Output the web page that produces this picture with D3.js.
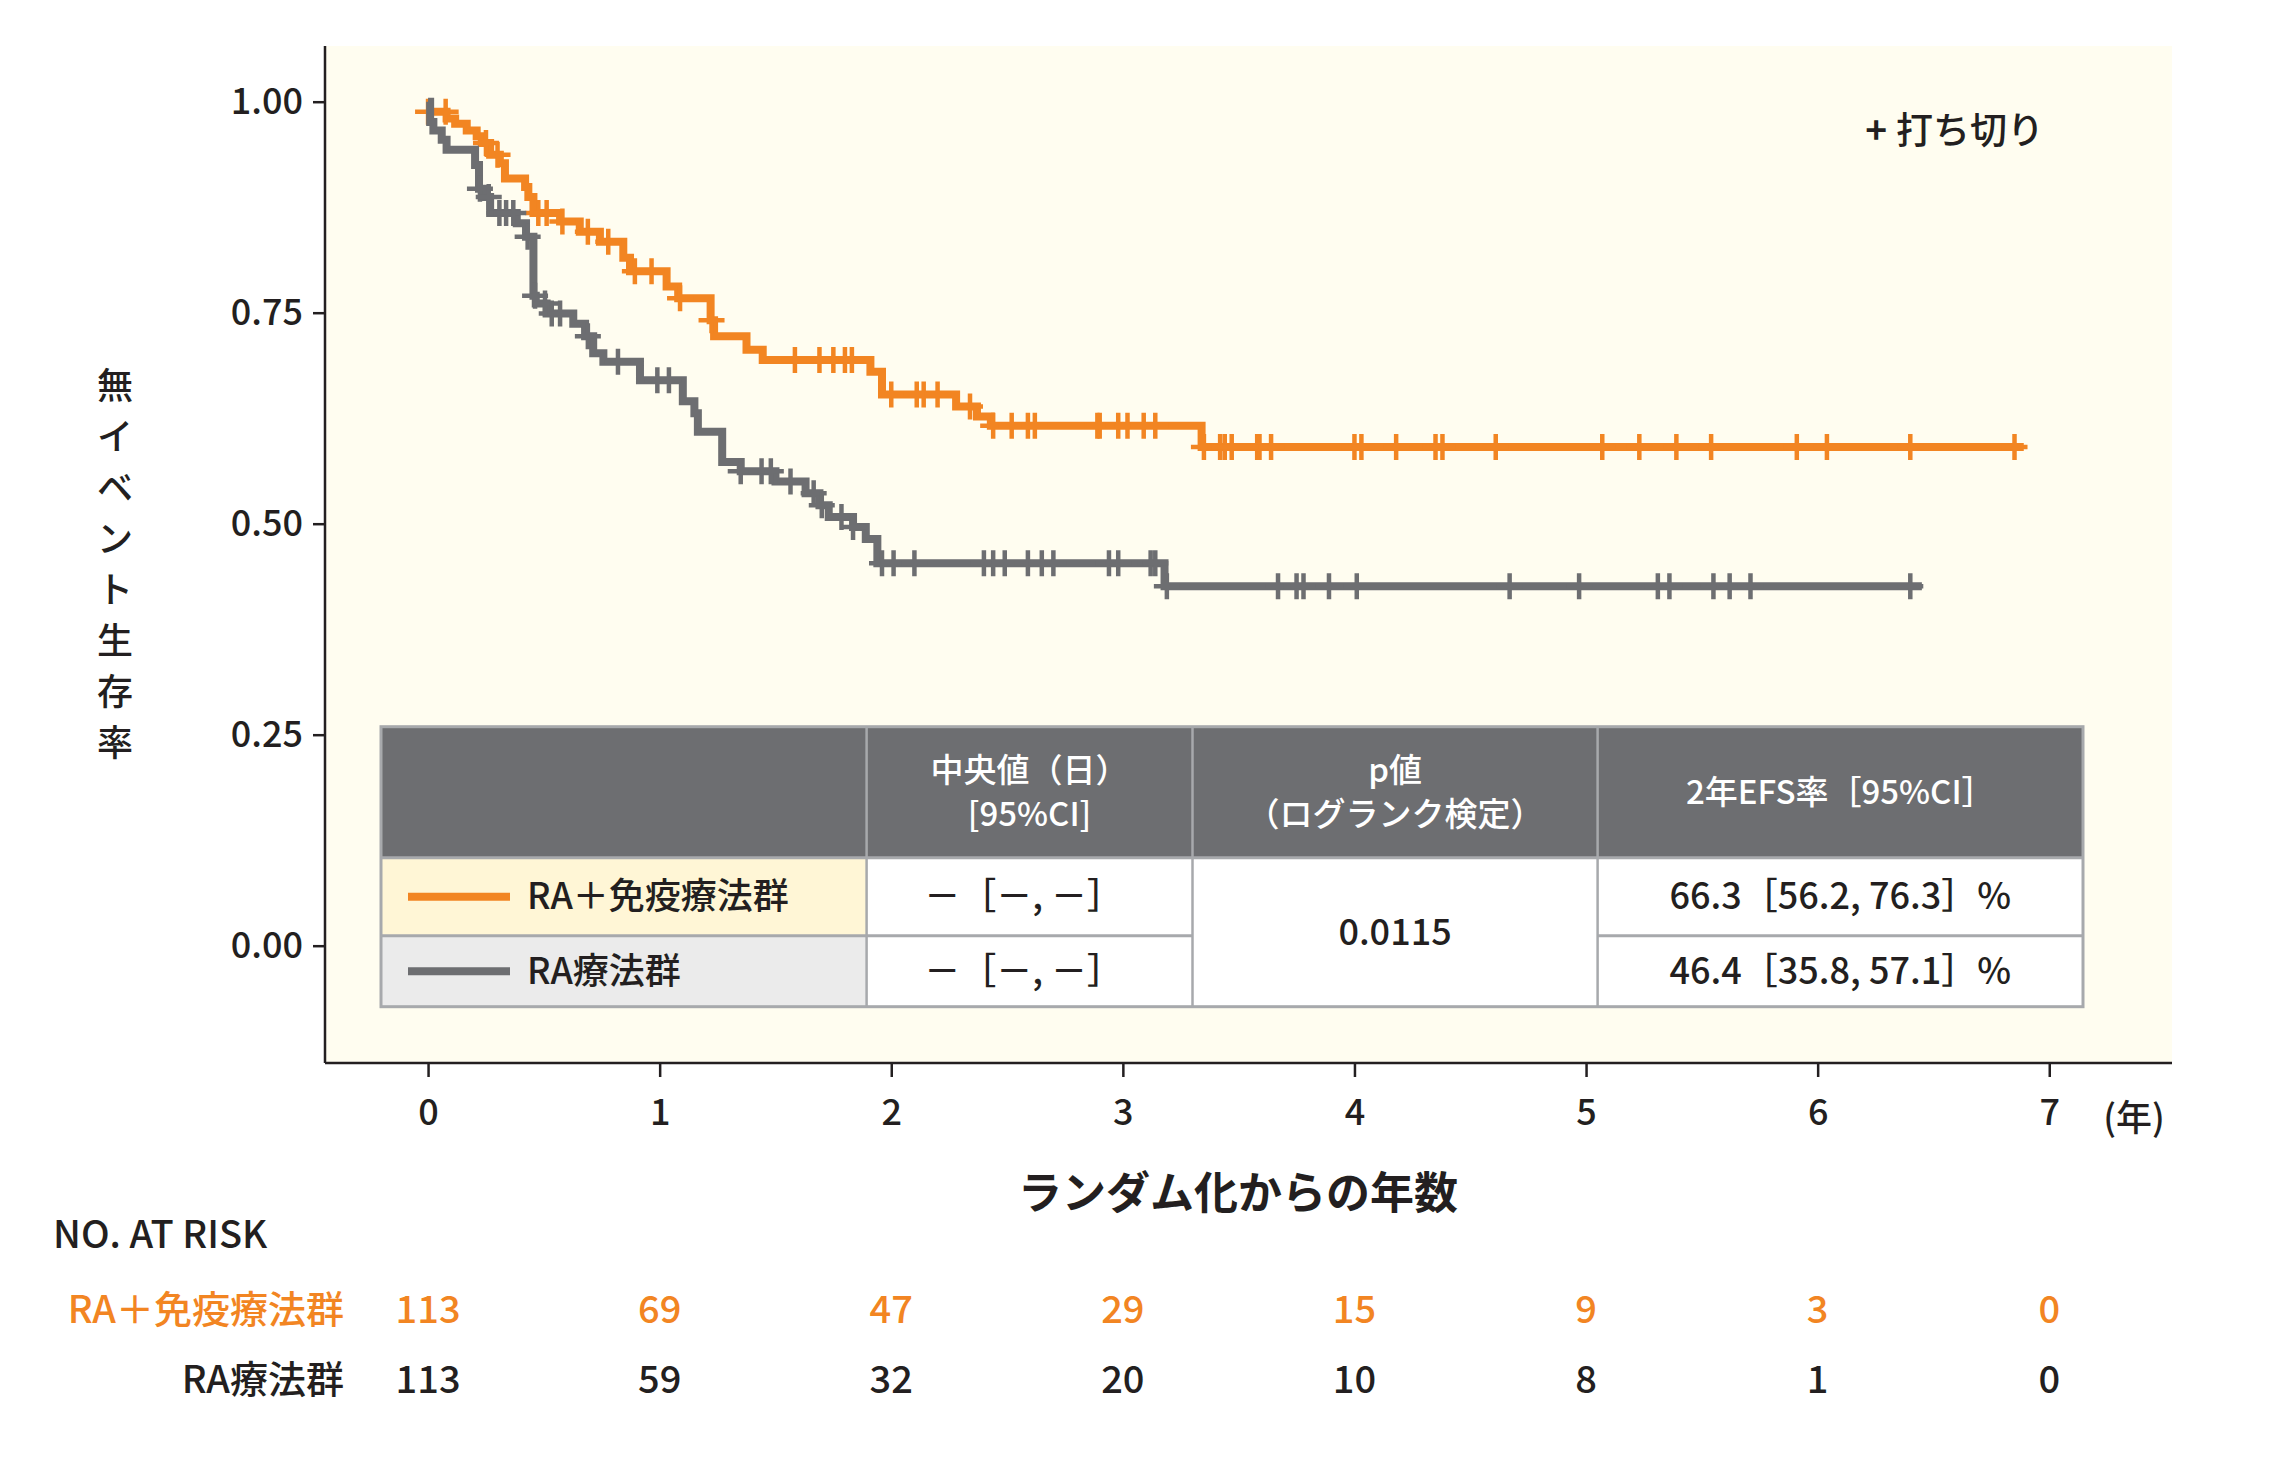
<!DOCTYPE html>
<html><head><meta charset="utf-8">
<script src="https://cdn.jsdelivr.net/npm/d3@7"></script>
<style>
body{margin:0;background:#fff;}
svg{display:block;font-family:"Noto Sans CJK JP","Noto Sans",sans-serif;font-weight:500;}
</style>
</head><body>
<svg id="chart" width="2280" height="1464"></svg>
<script>
// ---------- data ----------
const orangeTimes = [0, 0.08, 0.117, 0.167, 0.21, 0.232, 0.268, 0.31, 0.332, 0.419, 0.433, 0.455, 0.57, 0.655, 0.742, 0.843, 0.872, 1.03, 1.08, 1.22, 1.235, 1.375, 1.445, 1.91, 1.96, 2.28, 2.37, 2.43, 3.34];
const orangeSurv  = [0.988, 0.980, 0.974, 0.966, 0.959, 0.951, 0.937, 0.927, 0.909, 0.899, 0.887, 0.868, 0.858, 0.846, 0.834, 0.815, 0.799, 0.781, 0.767, 0.741, 0.722, 0.706, 0.694, 0.680, 0.653, 0.639, 0.627, 0.616, 0.591];
const orangeEnd = 6.89;
const orangeCensor = [0, 0.076, 0.25, 0.30, 0.476, 0.512, 0.58, 0.69, 0.778, 0.893, 0.965, 1.088, 1.224, 1.584, 1.69, 1.75, 1.80, 1.83, 2.00, 2.11, 2.14, 2.20, 2.34, 2.44, 2.52, 2.59, 2.62, 2.89, 2.90, 2.98, 3.02, 3.09, 3.14, 3.35, 3.42, 3.44, 3.47, 3.58, 3.59, 3.64, 4.00, 4.03, 4.18, 4.35, 4.38, 4.61, 5.07, 5.23, 5.39, 5.54, 5.91, 6.04, 6.40, 6.85];

const grayTimes = [0, 0.009, 0.023, 0.059, 0.08, 0.203, 0.22, 0.25, 0.268, 0.383, 0.423, 0.455, 0.465, 0.512, 0.627, 0.678, 0.713, 0.757, 0.915, 1.10, 1.15, 1.165, 1.27, 1.35, 1.50, 1.63, 1.69, 1.73, 1.835, 1.89, 1.94, 3.18];
const graySurv  = [1.0, 0.976, 0.966, 0.955, 0.943, 0.925, 0.897, 0.887, 0.868, 0.856, 0.840, 0.770, 0.761, 0.749, 0.737, 0.722, 0.702, 0.692, 0.670, 0.645, 0.631, 0.609, 0.573, 0.562, 0.550, 0.536, 0.522, 0.508, 0.496, 0.482, 0.453, 0.426];
const grayEnd = 6.45;
const grayCensor = [0.224, 0.262, 0.308, 0.337, 0.368, 0.43, 0.462, 0.505, 0.534, 0.57, 0.69, 0.82, 0.99, 1.04, 1.35, 1.44, 1.48, 1.565, 1.665, 1.70, 1.785, 1.835, 1.96, 2.01, 2.10, 2.40, 2.44, 2.49, 2.59, 2.65, 2.70, 2.94, 2.98, 3.12, 3.14, 3.19, 3.67, 3.75, 3.78, 3.89, 4.01, 4.67, 4.97, 5.31, 5.36, 5.55, 5.62, 5.71, 6.40];

const xTicks = [0, 1, 2, 3, 4, 5, 6, 7];
const yTicks = [0, 0.25, 0.5, 0.75, 1.0];
const riskTimes = [0, 1, 2, 3, 4, 5, 6, 7];
const riskOrange = [113, 69, 47, 29, 15, 9, 3, 0];
const riskGray = [113, 59, 32, 20, 10, 8, 1, 0];
const groupNames = ["RA＋免疫療法群", "RA療法群"];
const headerCells = [[], ["中央値（日）", "[95%CI]"], ["p値", "（ログランク検定）"], ["2年EFS率［95%CI］"]];
const medianText = ["－［－, －］", "－［－, －］"];
const pValueText = "0.0115";
const efsText = ["66.3［56.2, 76.3］%", "46.4［35.8, 57.1］%"];
const yLabel = "無イベント生存率";
const xLabel = "ランダム化からの年数";
const censorNote = ["+", "打ち切り"];
const xUnit = "(年)";
const riskTitle = "NO. AT RISK";

// ---------- style ----------
const ORANGE = "#f28522", GRAY = "#6d6e71", INK = "#231f20";
const svg = d3.select("#chart");
const P = {left: 325, right: 2172, top: 46, bottom: 1063};

const x = d3.scaleLinear().domain([-0.445, 7.53]).range([P.left, P.right]);
const y = d3.scaleLinear().domain([-0.139, 1.066]).range([P.bottom, P.top]);

svg.append("rect").attr("x", P.left).attr("y", P.top)
  .attr("width", P.right - P.left).attr("height", P.bottom - P.top).attr("fill", "#fffdf0");

// axes
const yAxis = svg.append("g").attr("transform", `translate(${P.left},0)`)
  .call(d3.axisLeft(y).tickValues(yTicks).tickFormat(d3.format(".2f")).tickSize(12).tickPadding(10));
const xAxis = svg.append("g").attr("transform", `translate(0,${P.bottom})`)
  .call(d3.axisBottom(x).tickValues(xTicks).tickFormat(d3.format("d")).tickSize(14).tickPadding(22));
[yAxis, xAxis].forEach(g => {
  g.select(".domain").attr("stroke", INK).attr("stroke-width", 2.5);
  g.selectAll(".tick line").attr("stroke", INK).attr("stroke-width", 2.5);
  g.selectAll(".tick text").attr("fill", INK).attr("font-size", 36)
   .attr("font-family", '"Noto Sans CJK JP", sans-serif').attr("font-weight", 500);
});
yAxis.select(".domain").attr("d", `M0,${P.top}V${P.bottom}`);
xAxis.select(".domain").attr("d", `M${P.left},0H${P.right}`);

svg.append("text").attr("x", 2134).attr("y", P.bottom + 55).attr("dy", "0.35em")
  .attr("text-anchor", "middle").attr("font-size", 36).attr("fill", INK).text(xUnit);

// y label (vertical, one char per line)
const yl = svg.append("text").attr("font-size", 36).attr("fill", INK).attr("text-anchor", "middle");
Array.from(yLabel).forEach((ch, i) => {
  yl.append("tspan").attr("x", 115).attr("y", 386 + i * 51).attr("dy", "0.35em").text(ch);
});

// x label
svg.append("text").attr("x", 1238).attr("y", 1194).attr("dy", "0.35em").attr("text-anchor", "middle")
  .attr("font-size", 44).attr("font-weight", 700).attr("fill", INK).text(xLabel);

// censor note
const cn = svg.append("text").attr("x", 2044).attr("y", 131).attr("dy", "0.35em").attr("text-anchor", "end")
  .attr("font-size", 37).attr("fill", INK);
cn.append("tspan").attr("font-weight", 700).text(censorNote[0]);
cn.append("tspan").attr("dx", 9).text(censorNote[1]);

// ---------- KM curves ----------
function stepAt(times, surv, t) {
  let idx = d3.bisectRight(times, t) - 1;
  if (idx < 0) idx = 0;
  return surv[idx];
}
const line = d3.line().x(d => x(d[0])).y(d => y(d[1])).curve(d3.curveStepAfter);
function drawCurve(times, surv, endT, censor, color) {
  const pts = times.map((t, i) => [t, surv[i]]);
  pts.push([endT, surv[surv.length - 1]]);
  svg.append("path").attr("d", line(pts)).attr("fill", "none")
    .attr("stroke", color).attr("stroke-width", 8);
  svg.append("g").selectAll("path").data(censor).join("path")
    .attr("transform", t => `translate(${x(t)},${y(stepAt(times, surv, t))})`)
    .attr("d", "M-13,0H13M0,-13V13").attr("stroke", color).attr("stroke-width", 4.5).attr("fill", "none");
}
drawCurve(orangeTimes, orangeSurv, orangeEnd, orangeCensor, ORANGE);
drawCurve(grayTimes, graySurv, grayEnd, grayCensor, GRAY);

// ---------- summary table ----------
const colX = [381, 866.6, 1192.5, 1597.6, 2083];
const rowY = [726.7, 857.7, 935.7, 1006.7];
const T = svg.append("g").attr("font-size", 36).attr("fill", INK);
T.append("rect").attr("x", colX[0]).attr("y", rowY[0]).attr("width", colX[4] - colX[0])
  .attr("height", rowY[1] - rowY[0]).attr("fill", GRAY);
T.append("rect").attr("x", colX[0]).attr("y", rowY[1]).attr("width", colX[4] - colX[0])
  .attr("height", rowY[3] - rowY[1]).attr("fill", "#fff");
T.append("rect").attr("x", colX[0]).attr("y", rowY[1]).attr("width", colX[1] - colX[0])
  .attr("height", rowY[2] - rowY[1]).attr("fill", "#fff6d6");
T.append("rect").attr("x", colX[0]).attr("y", rowY[2]).attr("width", colX[1] - colX[0])
  .attr("height", rowY[3] - rowY[2]).attr("fill", "#ebebeb");
const BORDER = "#a7a9ac";
T.append("rect").attr("x", colX[0]).attr("y", rowY[0]).attr("width", colX[4] - colX[0])
  .attr("height", rowY[3] - rowY[0]).attr("fill", "none").attr("stroke", BORDER).attr("stroke-width", 3);
[1, 2, 3].forEach(i => T.append("line").attr("x1", colX[i]).attr("x2", colX[i])
  .attr("y1", rowY[0]).attr("y2", rowY[3]).attr("stroke", BORDER).attr("stroke-width", 2.5));
T.append("line").attr("x1", colX[0]).attr("x2", colX[4]).attr("y1", rowY[1]).attr("y2", rowY[1])
  .attr("stroke", BORDER).attr("stroke-width", 3);
[[0, 2], [3, 4]].forEach(([a, b]) => T.append("line").attr("x1", colX[a]).attr("x2", colX[b])
  .attr("y1", rowY[2]).attr("y2", rowY[2]).attr("stroke", BORDER).attr("stroke-width", 3));

// header text
headerCells.forEach((lines, ci) => {
  const cx = (colX[ci] + colX[ci + 1]) / 2;
  const cy = (rowY[0] + rowY[1]) / 2;
  lines.forEach((s, li) => {
    const off = lines.length === 1 ? 0 : (li === 0 ? -22 : 22);
    T.append("text").attr("x", cx).attr("y", cy + off).attr("dy", "0.35em").attr("text-anchor", "middle")
      .attr("font-size", 33).attr("fill", "#fff").text(s);
  });
});
// rows
const rowColors = [ORANGE, GRAY];
groupNames.forEach((name, r) => {
  const cy = (rowY[r + 1] + rowY[r + 2]) / 2;
  T.append("line").attr("x1", 408).attr("x2", 510).attr("y1", cy).attr("y2", cy)
    .attr("stroke", rowColors[r]).attr("stroke-width", 8);
  T.append("text").attr("x", 527).attr("y", cy).attr("dy", "0.35em").text(name);
  T.append("text").attr("x", (colX[1] + colX[2]) / 2 - 6).attr("y", cy).attr("dy", "0.35em")
    .attr("text-anchor", "middle").text(medianText[r]);
  T.append("text").attr("x", (colX[3] + colX[4]) / 2).attr("y", cy).attr("dy", "0.35em")
    .attr("text-anchor", "middle").text(efsText[r]);
});
T.append("text").attr("x", (colX[2] + colX[3]) / 2).attr("y", (rowY[1] + rowY[3]) / 2).attr("dy", "0.35em")
  .attr("text-anchor", "middle").text(pValueText);

// ---------- number at risk ----------
svg.append("text").attr("x", 53).attr("y", 1235).attr("dy", "0.35em").attr("font-size", 38)
  .attr("fill", INK).text(riskTitle);
const riskRows = [[riskOrange, ORANGE, 1310], [riskGray, INK, 1380]];
riskRows.forEach(([vals, col, cy], r) => {
  svg.append("text").attr("x", 344).attr("y", cy).attr("dy", "0.35em").attr("text-anchor", "end")
    .attr("font-size", 38).attr("fill", col).text(groupNames[r]);
  svg.append("g").selectAll("text").data(vals).join("text")
    .attr("x", (d, i) => x(riskTimes[i])).attr("y", cy).attr("dy", "0.35em")
    .attr("text-anchor", "middle").attr("font-size", 38).attr("fill", col).text(d => d);
});
</script>
</body></html>
